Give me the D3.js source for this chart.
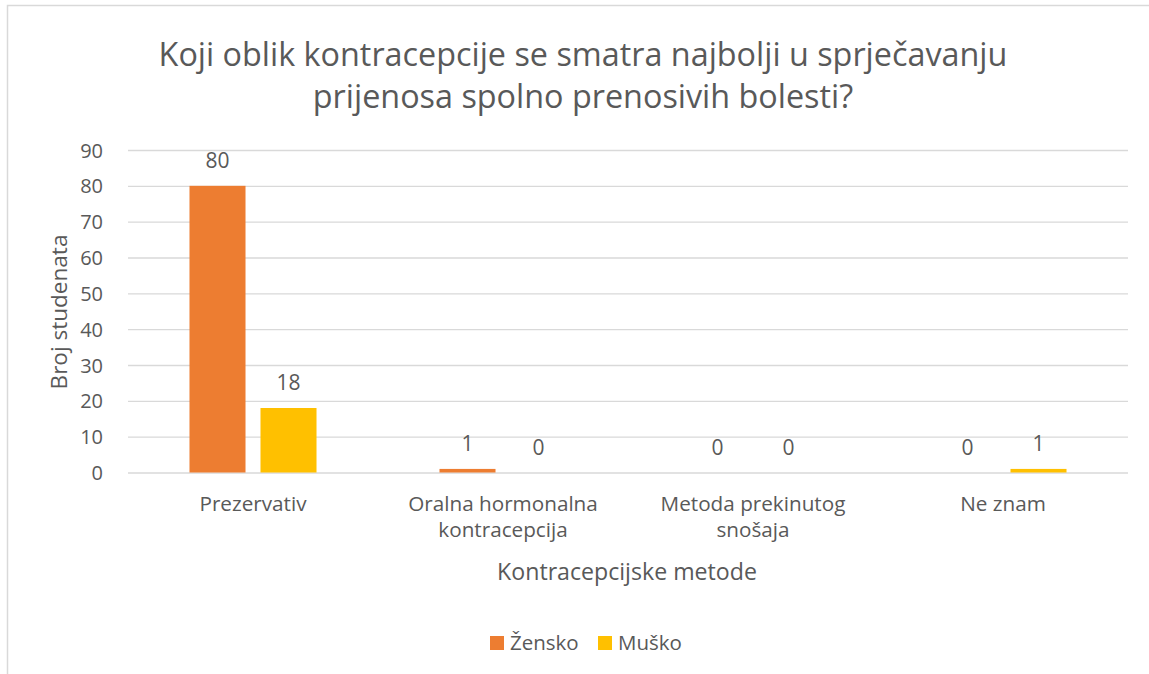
<!DOCTYPE html>
<html><head><meta charset="utf-8">
<script src="https://cdn.jsdelivr.net/npm/d3@7/dist/d3.min.js"></script>
<style>body{margin:0;background:#fff;}svg{display:block;font-family:"Open Sans",sans-serif;}</style>
</head><body><svg id="c" width="1149" height="674"></svg>
<script>
const categories = [["Prezervativ"], ["Oralna hormonalna","kontracepcija"], ["Metoda prekinutog","snošaja"], ["Ne znam"]];
const seriesNames = ["Žensko", "Muško"];
const zensko = [80, 1, 0, 0];
const musko = [18, 0, 0, 1];
const yTicks = [0,10,20,30,40,50,60,70,80,90];
const colors = ["#ED7D31", "#FFC000"];
const titleLines = ["Koji oblik kontracepcije se smatra najbolji u sprječavanju", "prijenosa spolno prenosivih bolesti?"];
const yTitle = "Broj studenata";
const xTitle = "Kontracepcijske metode";

const svg = d3.select("#c");
const txt = "#595959";
const m = {l:128, r:1128, t:150, b:472.5};

// border
svg.append("rect").attr("x",7.5).attr("y",5.5).attr("width",1200).attr("height",1000)
  .attr("fill","none").attr("stroke","#D9D9D9").attr("stroke-width",1.5);

function fit(sel, w){
  const n = sel.node(); const cw = n.getComputedTextLength();
  const fs = parseFloat(sel.attr("font-size"));
  sel.attr("font-size", fs * w / cw);
}

const x0 = d3.scaleBand().domain(d3.range(categories.length)).range([m.l, m.r]).paddingInner(0).paddingOuter(0);
const x1 = d3.scaleBand().domain(d3.range(seriesNames.length)).range([0, x0.bandwidth()]).paddingInner(0.211).paddingOuter(0.866);
const y = d3.scaleLinear().domain([0,90]).range([m.b, m.t]);

// gridlines via axis
const ga = svg.append("g").attr("transform",`translate(${m.l},0)`)
  .call(d3.axisLeft(y).tickValues(yTicks).tickSize(-(m.r-m.l)).tickFormat(""));
ga.select(".domain").remove();
ga.selectAll("line").attr("stroke","#D9D9D9").attr("stroke-width",1.3);

// y tick labels
const yl = svg.append("g").attr("transform",`translate(${m.l},0)`)
  .call(d3.axisLeft(y).tickValues(yTicks).tickSize(0).tickPadding(25));
yl.select(".domain").remove();
yl.selectAll("text").attr("font-size",20).attr("fill",txt).attr("font-family","Open Sans").attr("dy","0.35em");

// bars
const data = [zensko, musko];
categories.forEach((c,i)=>{
  data.forEach((s,j)=>{
    const v = s[i];
    const bx = x0(i) + x1(j);
    const h = Math.max(m.b - y(v), 0);
    svg.append("rect").attr("x",bx).attr("y", y(v)).attr("width",x1.bandwidth())
      .attr("height", v>0 ? h : 0).attr("fill",colors[j]);
    svg.append("text").attr("x",bx + x1.bandwidth()/2).attr("y", y(v) - 18)
      .attr("text-anchor","middle").attr("font-size",21).attr("fill",txt).text(v);
  });
  c.forEach((line,k)=>{
    svg.append("text").attr("x", x0(i)+x0.bandwidth()/2).attr("y", 511 + k*26)
      .attr("text-anchor","middle").attr("font-size",20.7).attr("fill",txt).text(line);
  });
});

// title
const tl1 = svg.append("text").attr("x",583).attr("y",66).attr("text-anchor","middle").attr("font-size",30).attr("fill",txt).text(titleLines[0]);
fit(tl1, 849);
const tl2 = svg.append("text").attr("x",583).attr("y",108).attr("text-anchor","middle").attr("font-size",tl1.attr("font-size")).attr("fill",txt).text(titleLines[1]);

// axis titles
const xt = svg.append("text").attr("x",627).attr("y",580).attr("text-anchor","middle").attr("font-size",20).attr("fill",txt).text(xTitle);
fit(xt, 260);
const yt = svg.append("text").attr("transform","translate(67,312) rotate(-90)").attr("text-anchor","middle").attr("font-size",20).attr("fill",txt).text(yTitle);
fit(yt, 155);

// legend
const leg = [[490,510],[598,618]];
seriesNames.forEach((n,j)=>{
  svg.append("rect").attr("x",leg[j][0]).attr("y",636).attr("width",14).attr("height",14).attr("fill",colors[j]);
  svg.append("text").attr("x",leg[j][1]).attr("y",650).attr("font-size",20.5).attr("fill",txt).text(n);
});
</script></body></html>
